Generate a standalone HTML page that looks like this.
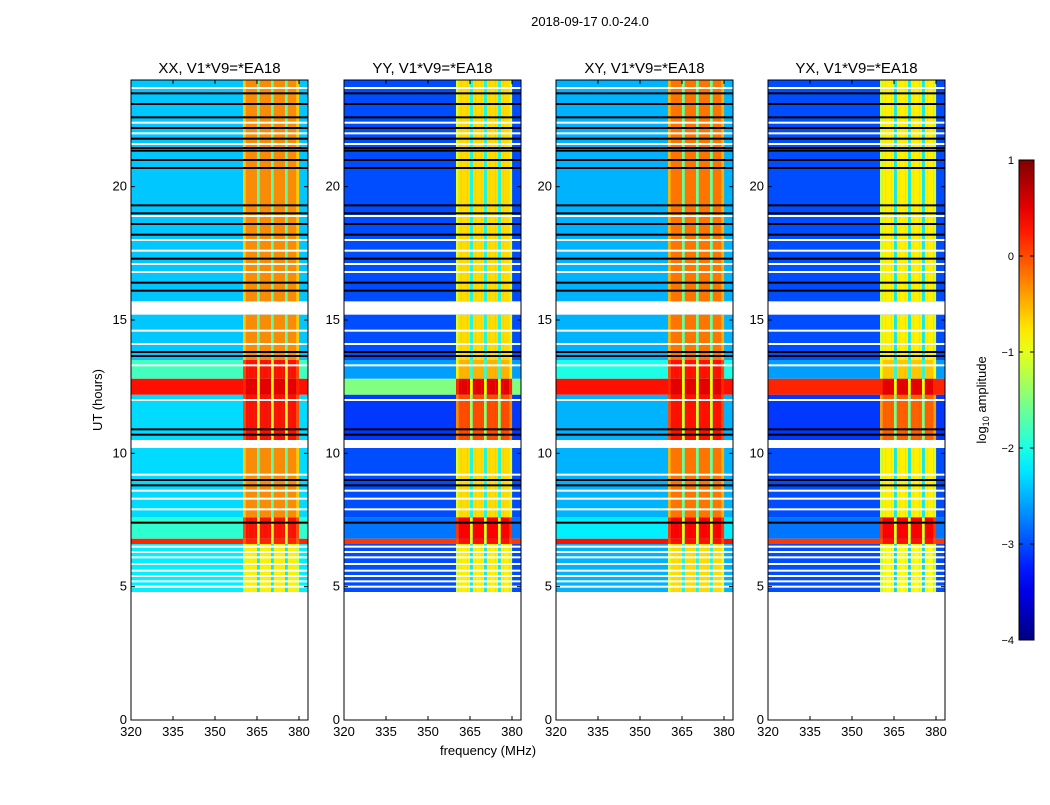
<!DOCTYPE html>
<html><head><meta charset="utf-8"><style>
body{margin:0;background:#fff;}
svg text{font-family:"Liberation Sans",sans-serif;}
</style></head><body>
<svg id="chart" width="1050" height="800" xmlns="http://www.w3.org/2000/svg">
<rect width="1050" height="800" fill="#fff"/>
<text x="590" y="26" font-size="13" text-anchor="middle">2018-09-17 0.0-24.0</text>
<text x="488" y="755" font-size="13" text-anchor="middle">frequency (MHz)</text>
<text transform="translate(102,400) rotate(-90)" font-size="13" text-anchor="middle">UT (hours)</text>
<g id="panels"></g>
<g id="cbar"></g>
</svg>
<script>
const panelTitles = ["XX, V1*V9=*EA18","YY, V1*V9=*EA18","XY, V1*V9=*EA18","YX, V1*V9=*EA18"];
const xTicks = [320,335,350,365,380];
const yTicks = [0,5,10,15,20];
const segStarts = [4.8, 6.6, 6.8, 7.6, 10.5, 12.2, 12.8, 13.5, 15.7];
const segEnds   = [6.6, 6.8, 7.6, 10.2, 12.2, 12.8, 13.5, 15.2, 24.0];
const bgXX = [-2.2, 0.2, -1.9, -2.3, -2.3, 0.3, -1.8, -2.4, -2.4];
const bgYY = [-3.0, 0.1, -2.8, -3.0, -3.1, -1.5, -2.6, -3.0, -3.0];
const bgXY = [-2.5, 0.3, -2.2, -2.5, -2.5, 0.3, -2.0, -2.5, -2.5];
const bgYX = [-3.0, 0.1, -2.8, -3.0, -3.1, 0.2, -2.6, -3.0, -3.0];
const bandXX = [-0.8, 0.2, 0.3, -0.3, 0.3, 0.5, 0.3, -0.3, -0.3];
const bandYY = [-0.8, 0.3, 0.4, -0.7, 0.0, 0.5, -0.5, -0.7, -0.7];
const bandXY = [-0.7, 0.3, 0.4, -0.2, 0.3, 0.5, 0.3, -0.2, -0.2];
const bandYX = [-0.9, 0.3, 0.4, -0.8, -0.1, 0.5, -0.6, -0.8, -0.8];
const bandFreqs = [360,361,362,363,364,365,366,367,368,369,370,371,372,373,374,375,376,377,378,379];
const bandOffs  = [-0.3,0,0,0,0,-1.4,0,0,0,0,-1.4,0,0,0,0,-1.4,0,0,0,-0.3];
const whiteLines = [5.0,5.2,5.4,5.6,5.85,6.1,6.3,6.5,7.9,8.3,8.6,9.2,10.35,12.0,13.3,14.1,14.6,15.45,16.8,17.1,17.6,18.0,18.9,21.6,22.0,22.4,23.7];
const blackLines = [7.4,8.8,9.0,10.7,10.9,13.65,13.8,16.1,16.4,17.3,18.2,18.6,19.0,19.3,20.7,21.0,21.35,21.45,21.8,22.2,22.6,23.1,23.5];
const cbTicks = [1,0,-1,-2,-3,-4];

const NS="http://www.w3.org/2000/svg";
function jet(v){
  const c=x=>Math.max(0,Math.min(1,x));
  const r=c(1.5-Math.abs(4*v-3)), g=c(1.5-Math.abs(4*v-2)), b=c(1.5-Math.abs(4*v-1));
  return `rgb(${Math.round(r*255)},${Math.round(g*255)},${Math.round(b*255)})`;
}
const col = l => jet((l+4)/5);
function mk(tag,attrs,parent){const e=document.createElementNS(NS,tag);for(const k in attrs)e.setAttribute(k,attrs[k]);parent.appendChild(e);return e;}
const lefts=[131,344,556,768], W=177, pTop=80, pBot=720;
const yS = h => pBot - h*(pBot-pTop)/24;
const bgs=[bgXX,bgYY,bgXY,bgYX], bands=[bandXX,bandYY,bandXY,bandYX];
const pg=document.getElementById('panels');
lefts.forEach((L,p)=>{
  const xS = f => L + (f-320)*2.8;
  const g=mk('g',{},pg);
  
  
  const clip=mk('clipPath',{id:'c'+p},g); mk('rect',{x:L,y:pTop,width:W,height:pBot-pTop},clip);
  const d=mk('g',{'clip-path':`url(#c${p})`},g);
  segStarts.forEach((s,i)=>{
    const e=segEnds[i];
    const r=mk('rect',{x:L,y:yS(e),width:W,height:yS(s)-yS(e),fill:col(bgs[p][i])},d);
    
    
    bandFreqs.forEach((f,j)=>{
      const b=mk('rect',{x:xS(f),y:yS(e),width:2.9,height:yS(s)-yS(e),fill:col(Math.min(1,bands[p][i]+bandOffs[j]))},d);
      
      
    });
  });
  whiteLines.forEach(h=>{const r=mk('rect',{x:L,y:yS(h)-1,width:W,height:2,fill:'#fff'},d);
    
    });
  blackLines.forEach(h=>{const r=mk('rect',{x:L,y:yS(h)-1,width:W,height:2,fill:'#000'},d);
    
    });
  mk('rect',{x:L,y:pTop,width:W,height:pBot-pTop,fill:'none',stroke:'#000','stroke-width':1},g);
  const t=mk('text',{x:L+W/2,y:pTop-7,'font-size':15,'text-anchor':'middle'},g); t.textContent=panelTitles[p];
  
  
  xTicks.forEach(f=>{const x=xS(f);
    mk('line',{x1:x,x2:x,y1:pBot,y2:pBot-4,stroke:'#000'},g);mk('line',{x1:x,x2:x,y1:pTop,y2:pTop+4,stroke:'#000'},g);
    const tt=mk('text',{x:x,y:pBot+16,'font-size':13,'text-anchor':'middle'},g);tt.textContent=f;
    
    });
  yTicks.forEach(h=>{const y=yS(h);
    mk('line',{x1:L,x2:L+4,y1:y,y2:y,stroke:'#000'},g);mk('line',{x1:L+W,x2:L+W-4,y1:y,y2:y,stroke:'#000'},g);
    const tt=mk('text',{x:L-4,y:y+4,'font-size':13,'text-anchor':'end'},g);tt.textContent=h;
    
    });
});
const cb=document.getElementById('cbar');


const defs=mk('defs',{},cb);const lg=mk('linearGradient',{id:'jg',x1:0,y1:1,x2:0,y2:0},defs);
for(let i=0;i<=20;i++)mk('stop',{offset:i/20,'stop-color':jet(i/20)},lg);
const cT=160,cB=640,cL=1019,cW=15;
mk('rect',{x:cL,y:cT,width:cW,height:cB-cT,fill:'url(#jg)',stroke:'#000'},cb);
const cy=v=>cB-(v+4)/5*(cB-cT);
cbTicks.forEach(v=>{const y=cy(v);
  mk('line',{x1:cL,x2:cL+4,y1:y,y2:y,stroke:'#000'},cb);mk('line',{x1:cL+cW,x2:cL+cW-4,y1:y,y2:y,stroke:'#000'},cb);
  const tt=mk('text',{x:cL-5,y:y+4,'font-size':11,'text-anchor':'end'},cb);tt.textContent=v<0?'\u2212'+(-v):v;
  
  });
const ct=mk('text',{transform:'translate(986,400) rotate(-90)','font-size':13,'text-anchor':'middle'},cb);
ct.innerHTML='log<tspan font-size="9" dy="3">10</tspan><tspan dy="-3"> amplitude</tspan>';


</script>
</body></html>
